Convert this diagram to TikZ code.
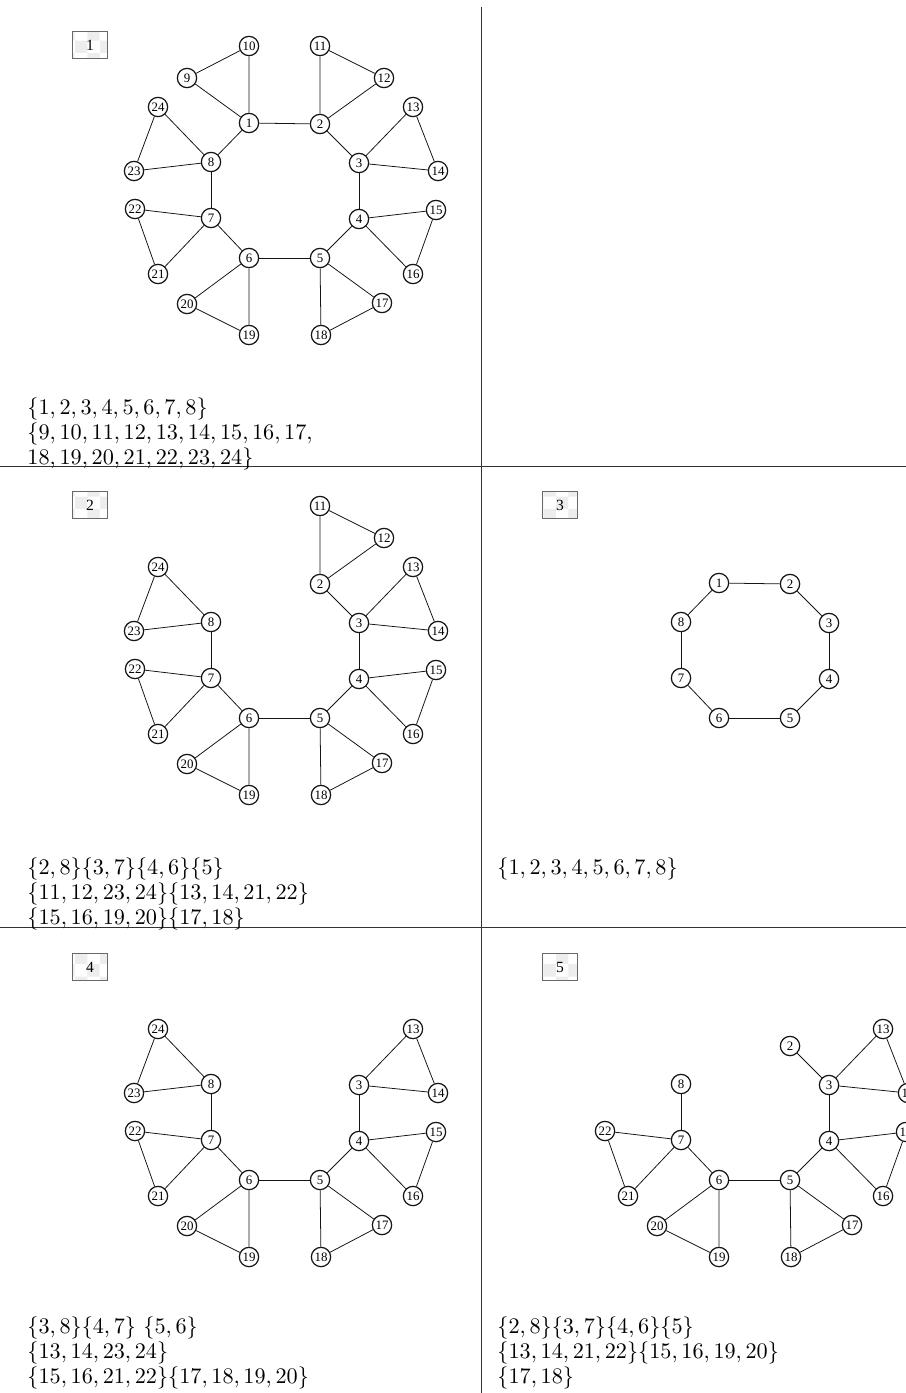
\documentclass[tikz,border=0pt]{standalone}
\usepackage{fontspec}
\newfontfamily\numfont{Liberation Serif}
\usetikzlibrary{patterns}
\definecolor{ink}{RGB}{20,20,20}
\definecolor{rule}{RGB}{50,50,50}
\definecolor{tagline}{RGB}{105,105,105}
\tikzset{
  vtx/.style={circle,draw=ink,line width=0.55pt,fill=white,inner sep=0pt,
    minimum size=8.7pt,font=\numfont\fontsize{5.8}{6}\selectfont},
  link/.style={draw=ink,line width=0.35pt},
  tag/.style={draw=tagline,line width=0.4pt,pattern=checkerboard,pattern color=gray!14,
    minimum width=15.75pt,minimum height=12.2pt,inner sep=0pt,font=\numfont\fontsize{7}{8}\selectfont},
  sets/.style={anchor=north west,inner sep=0pt,align=left,font=\fontsize{10}{11.25}\selectfont},
  divider/.style={draw=rule,line width=0.45pt},
}

\begin{document}
\begin{tikzpicture}[x=0.45pt,y=-0.45pt]
  \clip (0,0) rectangle (906,1393);
  % vertex places of the first panel, reused by the others
  \foreach \n/\x/\y in {1/249/123,2/320/124,3/359/163,4/359/219,5/320/258,6/249/258,7/211/218,8/211/162,
    9/187/78,10/249/46,11/320/46,12/384/78,13/413/107,14/438/171,15/436/210,16/413/274,
    17/382/303,18/321/335,19/249/335,20/187/304,21/158/274,22/135/209,23/134/171,24/158/107}
    \coordinate (v\n) at (\x,\y);

  \draw[divider] (481,7) -- (481,1393);
  \draw[divider] (0,467) -- (906,467);
  \draw[divider] (0,927) -- (906,927);

  % panel 1
  \node[tag] (t1) at (90,45) {1};
  \foreach \n in {1,...,24} \node[vtx] (a\n) at (v\n) {\n};
  \foreach \i [remember=\i as \j (initially 8)] in {1,...,8} \draw[link] (a\j) -- (a\i);
  \foreach \i in {1,...,8}{
    \pgfmathtruncatemacro\p{2*\i+7}\pgfmathtruncatemacro\q{2*\i+8}
    \draw[link] (a\i) -- (a\p) -- (a\q) -- (a\i);
  }
  \node[sets] (s1) at (27,397) {$\{1,2,3,4,5,6,7,8\}$\\$\{9,10,11,12,13,14,15,16,17,$\\$18,19,20,21,22,23,24\}$};

  % panel 2
  \node[tag] (t2) at (90,505) {2};
  \foreach \n in {2,...,8,11,12,...,24} \node[vtx] (b\n) at ([shift={(0,460)}]v\n) {\n};
  \foreach \i [remember=\i as \j (initially 2)] in {3,...,8} \draw[link] (b\j) -- (b\i);
  \foreach \i in {2,...,8}{
    \pgfmathtruncatemacro\p{2*\i+7}\pgfmathtruncatemacro\q{2*\i+8}
    \draw[link] (b\i) -- (b\p) -- (b\q) -- (b\i);
  }
  \node[sets] (s2) at (27,857) {$\{2,8\}\{3,7\}\{4,6\}\{5\}$\\$\{11,12,23,24\}\{13,14,21,22\}$\\$\{15,16,19,20\}\{17,18\}$};

  % panel 3
  \node[tag] (t3) at (560,505) {3};
  \foreach \n in {1,...,8} \node[vtx] (c\n) at ([shift={(470,460)}]v\n) {\n};
  \foreach \i [remember=\i as \j (initially 8)] in {1,...,8} \draw[link] (c\j) -- (c\i);
  \node[sets] (s3) at (497,857) {$\{1,2,3,4,5,6,7,8\}$};

  % panel 4
  \node[tag] (t4) at (90,967) {4};
  \foreach \n in {3,...,8,13,14,...,24} \node[vtx] (d\n) at ([shift={(0,922)}]v\n) {\n};
  \foreach \i [remember=\i as \j (initially 3)] in {4,...,8} \draw[link] (d\j) -- (d\i);
  \foreach \i in {3,...,8}{
    \pgfmathtruncatemacro\p{2*\i+7}\pgfmathtruncatemacro\q{2*\i+8}
    \draw[link] (d\i) -- (d\p) -- (d\q) -- (d\i);
  }
  \node[sets] (s4) at (27,1316) {$\{3,8\}\{4,7\}$ $\{5,6\}$\\$\{13,14,23,24\}$\\$\{15,16,21,22\}\{17,18,19,20\}$};

  % panel 5
  \node[tag] (t5) at (560,967) {5};
  \foreach \n in {2,...,8,13,14,...,22} \node[vtx] (e\n) at ([shift={(470,922)}]v\n) {\n};
  \foreach \i [remember=\i as \j (initially 2)] in {3,...,8} \draw[link] (e\j) -- (e\i);
  \foreach \i in {3,...,7}{
    \pgfmathtruncatemacro\p{2*\i+7}\pgfmathtruncatemacro\q{2*\i+8}
    \draw[link] (e\i) -- (e\p) -- (e\q) -- (e\i);
  }
  \node[sets] (s5) at (497,1316) {$\{2,8\}\{3,7\}\{4,6\}\{5\}$\\$\{13,14,21,22\}\{15,16,19,20\}$\\$\{17,18\}$};
\end{tikzpicture}
\end{document}
